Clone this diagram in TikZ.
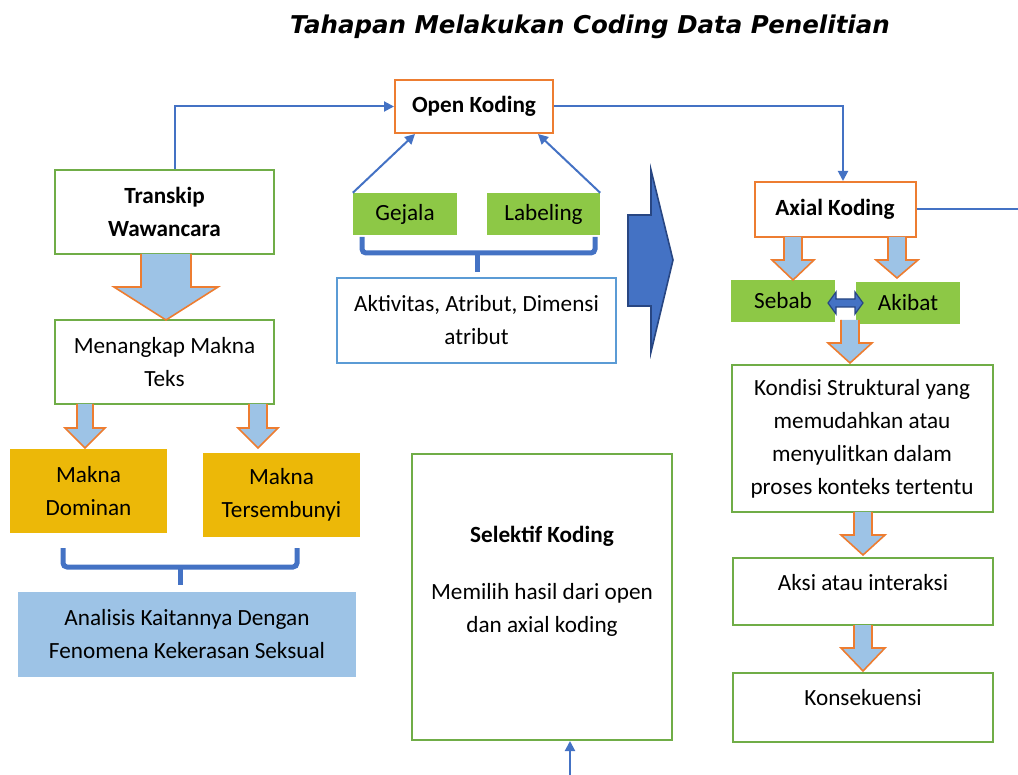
\documentclass[tikz,border=0pt]{standalone}
\usepackage{fontspec}
\setmainfont{Carlito}
\newfontfamily\titlefont{DejaVu Sans}
\usetikzlibrary{arrows.meta}

\definecolor{kgreen}{RGB}{112,173,71}
\definecolor{kleaf}{RGB}{141,200,70}
\definecolor{korange}{RGB}{237,125,49}
\definecolor{kblue}{RGB}{68,114,196}
\definecolor{kdarkblue}{RGB}{40,70,130}
\definecolor{kskyline}{RGB}{91,155,213}
\definecolor{ksky}{RGB}{157,195,230}
\definecolor{kgold}{RGB}{236,184,8}

\tikzset{
	every node/.style={font=\fontsize{23.2}{33}\selectfont, align=center, inner sep=0pt},
	greenbox/.style={draw=kgreen, line width=2pt, fill=white},
	orangebox/.style={draw=korange, line width=2pt, fill=white, font=\fontsize{23.2}{33}\selectfont\bfseries},
	leafbox/.style={fill=kleaf},
	goldbox/.style={fill=kgold},
	skybox/.style={fill=ksky},
	skyline/.style={draw=kskyline, line width=2pt, fill=white},
	link/.style={draw=kblue, line width=2pt, -{Triangle[length=10pt,width=10pt]}},
	blockarrow/.style={fill=ksky, draw=korange, line width=1.6pt, line join=miter},
	bigarrow/.style={fill=kblue, draw=kdarkblue, line width=1.6pt},
	bracket/.style={draw=kblue, line width=5pt, rounded corners=4pt},
}

\begin{document}
\begin{tikzpicture}[x=1pt,y=1pt,yscale=-1]
\path[use as bounding box] (0,0) rectangle (1018,775);
\clip (0,0) rectangle (1018,775);

\node [font=\titlefont\fontsize{24.5}{28}\selectfont\bfseries\itshape] (title) at (590,27) {Tahapan Melakukan Coding Data Penelitian};

% open koding
\node [orangebox, minimum width=158, minimum height=53] (open) at (474,106.5) {Open Koding};
\node [leafbox, minimum width=104, minimum height=42] (gejala) at (405,214) {Gejala};
\node [leafbox, minimum width=113, minimum height=42] (labeling) at (543.5,214) {Labeling};
\node [skyline, minimum width=279, minimum height=85] (aktivitas) at (476.5,320.5) {Aktivitas, Atribut, Dimensi\\atribut};

% kolom kiri
\node [greenbox, minimum width=219, minimum height=84, font=\fontsize{23.2}{33}\selectfont\bfseries] (transkip) at (164.5,212) {Transkip\\Wawancara};
\node [greenbox, minimum width=219, minimum height=84] (menangkap) at (164.5,362) {Menangkap Makna\\Teks};
\node [goldbox, minimum width=157, minimum height=84] (dominan) at (88.5,491) {Makna\\Dominan};
\node [goldbox, minimum width=157, minimum height=84] (tersembunyi) at (281.5,495) {Makna\\Tersembunyi};
\node [skybox, minimum width=338, minimum height=85] (analisis) at (187,634.5) {Analisis Kaitannya Dengan\\Fenomena Kekerasan Seksual};

% axial koding
\node [orangebox, minimum width=161, minimum height=55] (axial) at (835,209.5) {Axial Koding};
\node [leafbox, minimum width=104, minimum height=42] (sebab) at (783,301) {Sebab};
\node [leafbox, minimum width=104, minimum height=42] (akibat) at (908,303) {Akibat};
\node [greenbox, minimum width=261, minimum height=147] (kondisi) at (862,438.5) {Kondisi Struktural yang\\memudahkan atau\\menyulitkan dalam\\proses konteks tertentu};
\node [greenbox, minimum width=260, minimum height=67, text depth=18pt] (aksi) at (863,591.5) {Aksi atau interaksi};
\node [greenbox, minimum width=260, minimum height=69, text depth=20pt] (konsekuensi) at (863,707.5) {Konsekuensi};

% selektif koding
\node [greenbox, minimum width=260, minimum height=286, text depth=36pt] (selektif) at (542,597) {\textbf{Selektif Koding}\\[24pt]Memilih hasil dari open\\dan axial koding};

% panah blok
\foreach \cx/\ya/\yb/\yc/\s/\h in {166/254/287/320/25/52, 85/404/428/448/8/20, 258/404/428/448/9/20,
	793/237/260/280/9/21, 897/237/260/278/9/21, 850/320/343/363/9/22, 863/512/535/555/9/22, 863/625/648/671/9/22}
	\filldraw [blockarrow] (\cx-\s,\ya) -- (\cx-\s,\yb) -- (\cx-\h,\yb) -- (\cx,\yc) -- (\cx+\h,\yb) -- (\cx+\s,\yb) -- (\cx+\s,\ya);

\draw [bigarrow] (628,215) -- (651,215) -- (651,170) -- (673,260) -- (651,352) -- (651,306) -- (628,306) -- cycle;
\draw [bigarrow, line width=1.2pt] (828,303) -- (836,292) -- (836,299) -- (855,299) -- (855,292) -- (863,303) -- (855,314) -- (855,307) -- (836,307) -- (836,314) -- cycle;

% kurung
\draw [bracket] (362,237) -- (362,253) -- (595,253) -- (595,237);
\draw [bracket] (477,253) -- (477,272);
\draw [bracket] (63,548) -- (63,567) -- (297,567) -- (297,548);
\draw [bracket] (180,567) -- (180,585);

% penghubung
\draw [link] ([xshift=10]transkip.north) |- (open.west);
\draw [link] (open.east) -| ([xshift=8]axial.north);
\draw [link] (gejala.north west) -- ([xshift=-59]open.south);
\draw [link] (labeling.north east) -- ([xshift=64]open.south);
\draw [link] (axial.east) -| (1030,790) -| ([xshift=28]selektif.south);

\end{tikzpicture}
\end{document}
